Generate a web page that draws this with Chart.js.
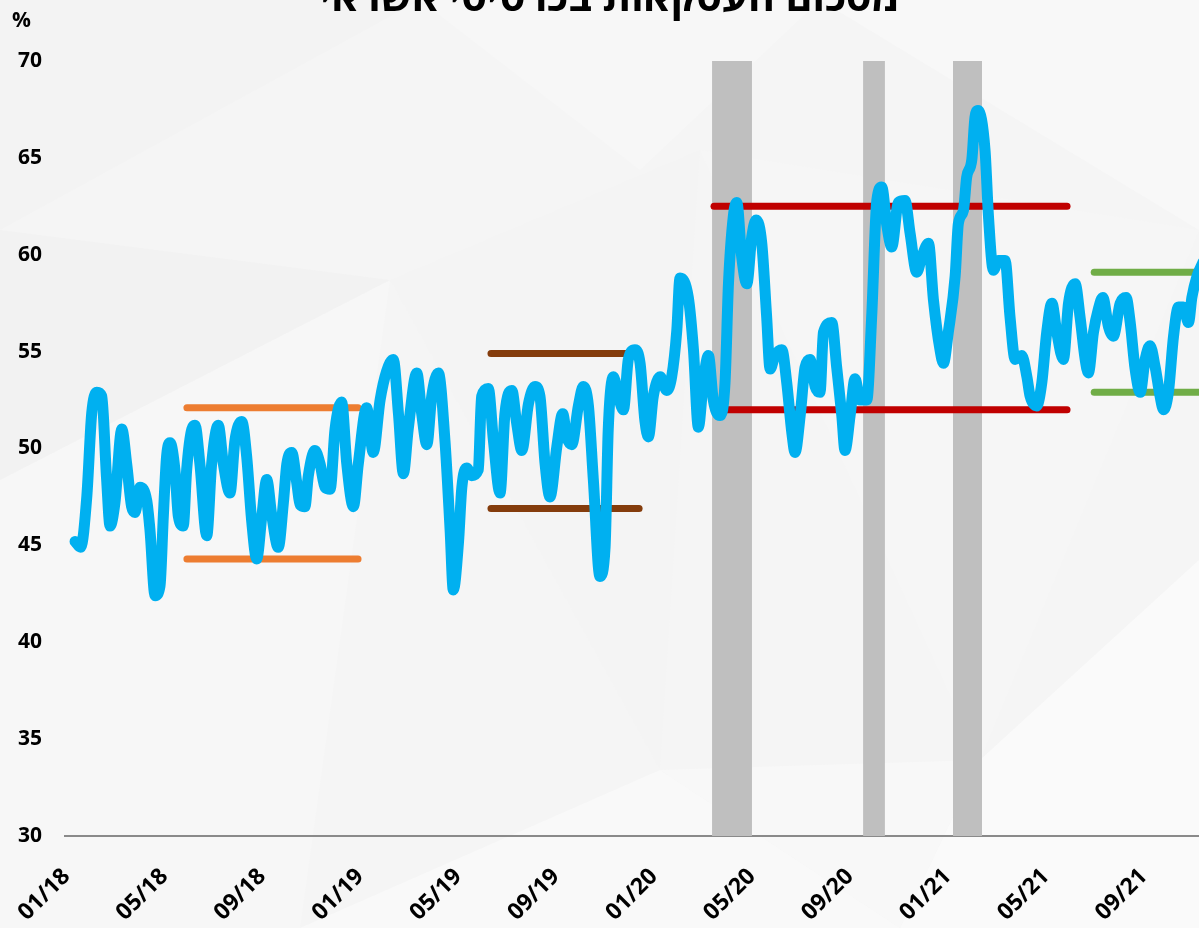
<!DOCTYPE html>
<html lang="he">
<head>
<meta charset="utf-8">
<script src="https://cdn.jsdelivr.net/npm/chart.js@4.4.1/dist/chart.umd.min.js"></script>
<style>
html,body{margin:0;padding:0;overflow:hidden;background:#f5f5f5;}
#wrap{position:relative;width:1199px;height:928px;overflow:hidden;}
svg.bg{position:absolute;left:0;top:0;}
canvas{position:absolute;left:0;top:0;}
</style>
</head>
<body>
<div id="wrap">
<svg class="bg" width="1199" height="928" viewBox="0 0 1199 928">
  <rect x="0" y="0" width="1199" height="928" fill="#f5f5f5"/>
  <polygon points="0,0 420,0 0,230" fill="#f3f3f3"/>
  <polygon points="420,0 820,0 640,170" fill="#f7f7f7"/>
  <polygon points="820,0 1199,0 1199,230" fill="#f8f8f8"/>
  <polygon points="0,480 390,280 300,928 0,928" fill="#f7f7f7"/>
  <polygon points="390,280 700,150 660,770" fill="#f4f4f4"/>
  <polygon points="300,928 660,770 900,928" fill="#f9f9f9"/>
  <polygon points="700,150 1199,230 980,760" fill="#f6f6f6"/>
  <polygon points="980,760 1199,560 1199,928 900,928" fill="#fafafa"/>
  <polygon points="0,230 390,280 0,480" fill="#f2f2f2"/>
  <polygon points="660,770 980,760 900,928" fill="#f8f8f8"/>
</svg>
<canvas id="c" width="1199" height="928"></canvas>
</div>
<script>
// ---- data ----
const titleText = 'מסכום העסקאות בכרטיסי אשראי';
const unitLabel = '%';
const tickLabels = ['01/18','05/18','09/18','01/19','05/19','09/19','01/20','05/20','09/20','01/21','05/21','09/21'];

// time in months since 01/2018
const months = [0.23,0.46,0.71,0.91,1.12,1.32,1.52,1.66,1.86,2.14,2.34,2.54,2.68,2.88,3.16,3.29,3.50,3.70,3.84,3.97,4.11,4.31,4.45,4.65,4.79,5.00,5.13,5.33,5.61,5.81,6.08,6.29,6.56,6.76,7.04,7.24,7.45,7.65,7.86,8.06,8.26,8.53,8.74,8.88,9.08,9.29,9.42,9.62,9.76,10.03,10.24,10.44,10.65,10.85,11.12,11.33,11.60,11.80,12.14,12.41,12.69,12.96,13.23,13.44,13.64,13.84,14.19,14.39,14.60,14.80,15.07,15.34,15.55,15.68,15.89,16.03,16.23,16.43,16.70,16.84,17.11,17.32,17.59,17.79,18.07,18.27,18.48,18.75,19.02,19.22,19.43,19.63,19.91,20.15,20.31,20.52,20.79,20.99,21.20,21.40,21.67,21.88,22.01,22.22,22.42,22.63,22.83,23.10,23.31,23.51,23.65,23.85,24.13,24.40,24.60,24.81,24.94,25.28,25.49,25.69,25.89,26.10,26.30,26.58,26.78,26.92,27.12,27.26,27.46,27.67,27.87,28.05,28.28,28.48,28.62,28.82,29.10,29.30,29.51,29.64,29.85,30.05,30.25,30.46,30.66,30.80,31.14,31.34,31.55,31.68,31.89,32.09,32.30,32.57,32.77,32.98,33.18,33.39,33.59,33.86,34.13,34.34,34.61,34.82,35.09,35.29,35.56,35.70,35.90,36.18,36.31,36.52,36.65,36.86,36.99,37.11,37.40,37.54,37.74,37.95,38.22,38.42,38.63,38.90,39.11,39.24,39.51,39.72,39.92,40.13,40.33,40.60,40.81,41.08,41.28,41.49,41.62,41.83,42.03,42.21,42.44,42.64,42.92,43.16,43.33,43.53,43.74,43.94,44.14,44.35,44.55,44.69,44.89,45.10,45.30,45.50,45.71,45.85,46.06,46.30];
const shares = [45.2,44.9,47.5,51.8,52.9,52.7,48.4,46.0,47.2,51.0,49.2,47.0,46.7,48.0,47.3,45.8,42.4,42.9,46.6,49.6,50.3,48.9,46.5,46.0,48.9,51.0,51.2,49.2,45.5,49.2,51.2,49.2,47.7,50.4,51.4,49.6,46.2,44.3,46.5,48.4,46.6,44.9,47.2,49.2,49.8,48.2,47.1,47.0,48.6,49.9,49.2,48.0,47.9,51.0,52.4,49.2,47.0,49.2,52.1,49.8,52.5,54.0,54.6,51.8,48.7,51.0,53.9,51.8,50.2,52.7,53.9,50.4,45.8,42.7,45.1,48.0,49.0,48.6,48.9,52.7,53.1,50.4,47.7,51.8,53.0,51.3,49.9,52.3,53.2,52.7,49.2,47.5,50.1,51.8,50.6,50.2,52.2,53.2,52.2,48.4,43.4,44.9,51.0,53.7,52.7,52.0,54.6,55.1,54.4,51.4,50.6,52.7,53.7,53.0,53.7,56.1,58.8,57.8,55.1,51.1,53.4,54.8,52.5,51.7,53.4,58.5,62.0,62.7,59.9,58.5,60.9,61.8,60.6,56.8,54.1,54.8,55.1,53.4,50.8,49.8,51.7,54.2,54.6,53.2,52.9,56.0,56.5,54.2,51.7,49.9,51.7,53.6,52.5,52.5,56.8,62.8,63.5,61.5,60.4,62.7,62.8,61.1,59.1,59.9,60.6,57.7,55.1,54.4,56.0,58.9,61.6,62.3,64.0,64.9,67.1,67.45,65.4,62.0,59.2,59.7,59.7,56.8,54.6,54.8,53.7,52.7,52.2,53.4,56.0,57.5,56.0,54.6,57.5,58.5,56.8,54.6,53.9,56.0,57.2,57.8,56.3,55.8,57.5,57.8,56.5,54.1,52.9,54.6,55.3,54.2,52.7,52.0,52.9,55.8,57.3,57.3,56.5,57.8,58.9,59.6];

// lockdown periods (months since 01/2018)
const lockStart = [26.25, 32.42, 36.09];
const lockEnd   = [27.88, 33.31, 37.28];

// range bands (months since 01/2018, %)
const bandStart = [4.80, 17.22, 26.33, 41.86];
const bandEnd   = [11.79, 23.27, 40.75, 47.50];
const bandHigh  = [52.1, 54.9, 62.5, 59.1];
const bandLow   = [44.3, 46.9, 52.0, 52.9];

// ---- styles ----
const bandColors = ['#ED7D31', '#843C0C', '#C00000', '#70AD47'];
const FONT = '"Open Sans", "Liberation Sans", "DejaVu Sans", sans-serif';

const datasets = [];
datasets.push({
  type: 'line',
  data: months.map((m, i) => ({x: m, y: shares[i]})),
  borderColor: '#00B0F0',
  borderWidth: 11,
  borderJoinStyle: 'round',
  borderCapStyle: 'round',
  cubicInterpolationMode: 'monotone',
  pointRadius: 0,
  fill: false,
  order: 0
});
bandStart.forEach((s, i) => {
  [bandHigh[i], bandLow[i]].forEach(v => {
    datasets.push({
      type: 'line',
      data: [{x: s, y: v}, {x: bandEnd[i], y: v}],
      borderColor: bandColors[i],
      borderWidth: 7,
      borderCapStyle: 'round',
      pointRadius: 0,
      fill: false,
      order: 1
    });
  });
});
lockStart.forEach((s, i) => {
  datasets.push({
    type: 'line',
    data: [{x: s, y: 70}, {x: lockEnd[i], y: 70}],
    borderWidth: 0,
    borderColor: 'rgba(0,0,0,0)',
    backgroundColor: '#BFBFBF',
    pointRadius: 0,
    fill: 'start',
    order: 2
  });
});

const textPlugin = {
  id: 'texts',
  afterDraw(chart) {
    const ctx = chart.ctx;
    ctx.save();
    ctx.fillStyle = '#000';
    ctx.font = 'bold 41px ' + FONT;
    ctx.textAlign = 'center';
    ctx.textBaseline = 'alphabetic';
    ctx.direction = 'rtl';
    ctx.fillText(titleText, 610, 11);
    ctx.direction = 'ltr';
    ctx.font = 'bold 21px ' + FONT;
    ctx.textAlign = 'left';
    ctx.fillText(unitLabel, 12, 27);
    ctx.restore();
  }
};

new Chart(document.getElementById('c'), {
  type: 'line',
  data: { datasets },
  options: {
    responsive: false,
    animation: false,
    devicePixelRatio: 1,
    layout: { padding: { top: 61, left: 0, right: 0, bottom: 0 } },
    plugins: { legend: { display: false }, tooltip: { enabled: false }, title: { display: false } },
    scales: {
      x: {
        type: 'linear',
        min: -0.18,
        max: 46.14,
        grid: { display: false, drawTicks: false },
        border: { display: true, color: '#8a8a8a', width: 2 },
        ticks: {
          stepSize: 4,
          includeBounds: false,
          autoSkip: false,
          minRotation: 45,
          maxRotation: 45,
          padding: 27,
          labelOffset: -3,
          color: '#000',
          font: { family: FONT, weight: 'bold', size: 23 },
          callback: (v) => {
            const i = Math.round(v / 4);
            return Math.abs(v - i * 4) < 1e-6 && tickLabels[i] ? tickLabels[i] : '';
          }
        },
        afterFit: (s) => { s.height = 92; s.paddingLeft = 0; s.paddingRight = 0; }
      },
      y: {
        min: 30,
        max: 70,
        grid: { display: false, drawTicks: false },
        border: { display: false },
        ticks: {
          stepSize: 5,
          padding: 23,
          color: '#000',
          font: { family: FONT, weight: 'bold', size: 21 }
        },
        afterFit: (s) => { s.width = 65; }
      }
    }
  },
  plugins: [textPlugin]
});
</script>
</body>
</html>
